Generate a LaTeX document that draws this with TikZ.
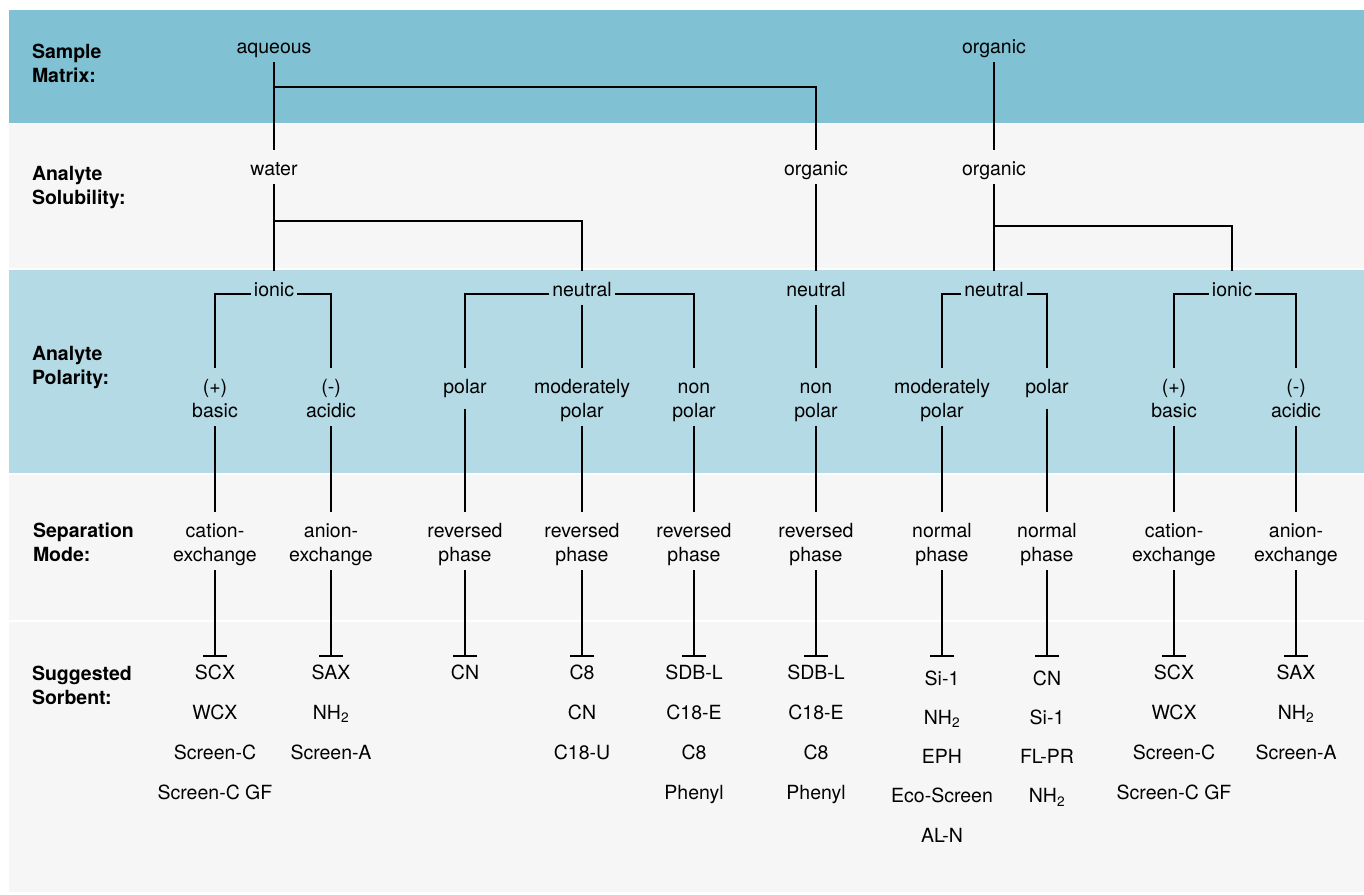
\documentclass[tikz,border=0pt]{standalone}
\usepackage{fontspec}
\setmainfont{TeX Gyre Heros}
\usetikzlibrary{arrows.meta}
\definecolor{bandA}{RGB}{128,193,211}
\definecolor{bandB}{RGB}{180,218,229}
\definecolor{bandG}{RGB}{246,246,246}
\newcommand\tp{\rule{0pt}{25pt}}
\newcommand\sa{\rule{0pt}{22pt}}
\newcommand\sn{\rule{0pt}{28pt}}
\newcommand\hd{\rule{0pt}{20pt}}
\begin{document}
\begin{tikzpicture}[x=1pt,y=-1pt,
  basebox/.style={inner xsep=3pt, inner ysep=0pt, outer sep=0pt, align=center, anchor=north},
  lab/.style={basebox, font=\fontsize{19.5}{24}\selectfont,
    execute at begin node={\tp}, execute at end node={\rule[-9pt]{0pt}{9pt}}},
  deep/.style={execute at end node={\rule[-16pt]{0pt}{16pt}}},
  sorb/.style={basebox, font=\fontsize{19.5}{40}\selectfont},
  sorbn/.style={basebox, font=\fontsize{19.5}{39.3}\selectfont},
  head/.style={anchor=north west, align=left, inner sep=0pt, outer sep=0pt,
    font=\bfseries\fontsize{19.5}{24.5}\selectfont},
  conn/.style={line width=2pt, line cap=butt},
  tee/.style={conn, -{Bar[width=24pt, line width=2pt]}}
]
\useasboundingbox (0,0) rectangle (1364,894);
\fill[white] (0,0) rectangle (1364,894);
\fill[bandA] (9,10) rectangle (1364,122.5);
\fill[bandG] (9,124) rectangle (1364,268);
\fill[bandB] (9,270) rectangle (1364,472.5);
\fill[bandG] (9,474.5) rectangle (1364,620);
\fill[bandG] (9,622) rectangle (1364,892);

% headings
\node[head] (h1) at (32,38) {\hd Sample\\Matrix:};
\node[head] (h2) at (32,160) {\hd Analyte\\Solubility:};
\node[head] (h3) at (32,340) {\hd Analyte\\Polarity:};
\node[head] (h4) at (33,517) {\hd Separation\\Mode:};
\node[head] (h5) at (32,660) {\hd Suggested\\Sorbent:};

% row 1: sample matrix
\node[lab] (aq) at (274,28) {aqueous};
\node[lab] (om) at (994,28) {organic};
% row 2: solubility
\node[lab] (w) at (274,150) {water};
\node[lab] (so) at (816,150) {organic};
\node[lab] (so2) at (994,150) {organic};
% row 3: polarity class
\node[lab] (io1) at (274,271) {ionic};
\node[lab] (ne1) at (582,271) {neutral};
\node[lab] (ne2) at (816,271) {neutral};
\node[lab] (ne3) at (994,271) {neutral};
\node[lab] (io2) at (1232,271) {ionic};
% row 4: polarity
\node[lab] (pb1) at (215,368) {\tp(+)\\basic};
\node[lab] (na1) at (331,368) {\tp(-)\\acidic};
\node[lab,deep] (po1) at (465,368) {polar};
\node[lab] (mp1) at (582,368) {\tp moderately\\polar};
\node[lab] (np1) at (694,368) {\tp non\\polar};
\node[lab] (np2) at (816,368) {\tp non\\polar};
\node[lab] (mp2) at (942,368) {\tp moderately\\polar};
\node[lab,deep] (po2) at (1047,368) {polar};
\node[lab] (pb2) at (1174,368) {\tp(+)\\basic};
\node[lab] (na2) at (1296,368) {\tp(-)\\acidic};
% row 5: separation mode
\node[lab] (ce1) at (215,512) {\tp cation-\\exchange};
\node[lab] (ae1) at (331,512) {\tp anion-\\exchange};
\node[lab] (rp1) at (465,512) {\tp reversed\\phase};
\node[lab] (rp2) at (582,512) {\tp reversed\\phase};
\node[lab] (rp3) at (694,512) {\tp reversed\\phase};
\node[lab] (rp4) at (816,512) {\tp reversed\\phase};
\node[lab] (nph1) at (942,512) {\tp normal\\phase};
\node[lab] (nph2) at (1047,512) {\tp normal\\phase};
\node[lab] (ce2) at (1174,512) {\tp cation-\\exchange};
\node[lab] (ae2) at (1296,512) {\tp anion-\\exchange};
% row 6: sorbents
\node[sorb] (sb1) at (215,657) {\sa SCX\\WCX\\Screen-C\\Screen-C GF};
\node[sorb] (sb2) at (331,657) {\sa SAX\\NH\textsubscript{2}\\Screen-A};
\node[sorb] (sb3) at (465,657) {\sa CN};
\node[sorb] (sb4) at (582,657) {\sa C8\\CN\\C18-U};
\node[sorb] (sb5) at (694,657) {\sa SDB-L\\C18-E\\C8\\Phenyl};
\node[sorb] (sb6) at (816,657) {\sa SDB-L\\C18-E\\C8\\Phenyl};
\node[sorbn] (sb7) at (942,657) {\sn Si-1\\NH\textsubscript{2}\\EPH\\Eco-Screen\\AL-N};
\node[sorbn] (sb8) at (1047,657) {\sn CN\\Si-1\\FL-PR\\NH\textsubscript{2}};
\node[sorb] (sb9) at (1174,657) {\sa SCX\\WCX\\Screen-C\\Screen-C GF};
\node[sorb] (sb10) at (1296,657) {\sa SAX\\NH\textsubscript{2}\\Screen-A};

% connectors rows 1-3
\draw[conn] (aq.south) -- (w.north);
\draw[conn] ([yshift=-25pt]aq.south) -| (so.north);
\draw[conn] (om.south) -- (so2.north);
\draw[conn] (w.south) -- (io1.north);
\draw[conn] ([yshift=-37pt]w.south) -| (ne1.north);
\draw[conn] (so.south) -- (ne2.north);
\draw[conn] (so2.south) -- (ne3.north);
\draw[conn] ([yshift=-42pt]so2.south) -| (io2.north);
% brackets
\draw[conn] ([yshift=2pt]io1.base west) -| (pb1.north);
\draw[conn] ([yshift=2pt]io1.base east) -| (na1.north);
\draw[conn] ([yshift=2pt]ne1.base west) -| (po1.north);
\draw[conn] ([yshift=2pt]ne1.base east) -| (np1.north);
\draw[conn] (ne1.south) -- (mp1.north);
\draw[conn] (ne2.south) -- (np2.north);
\draw[conn] ([yshift=2pt]ne3.base west) -| (mp2.north);
\draw[conn] ([yshift=2pt]ne3.base east) -| (po2.north);
\draw[conn] ([yshift=2pt]io2.base west) -| (pb2.north);
\draw[conn] ([yshift=2pt]io2.base east) -| (na2.north);
% polarity -> separation
\draw[conn] (pb1.south) -- (ce1.north);
\draw[conn] (na1.south) -- (ae1.north);
\draw[conn] (po1.south) -- (rp1.north);
\draw[conn] (mp1.south) -- (rp2.north);
\draw[conn] (np1.south) -- (rp3.north);
\draw[conn] (np2.south) -- (rp4.north);
\draw[conn] (mp2.south) -- (nph1.north);
\draw[conn] (po2.south) -- (nph2.north);
\draw[conn] (pb2.south) -- (ce2.north);
\draw[conn] (na2.south) -- (ae2.north);
% separation -> sorbent
\draw[tee] (ce1.south) -- (sb1.north);
\draw[tee] (ae1.south) -- (sb2.north);
\draw[tee] (rp1.south) -- (sb3.north);
\draw[tee] (rp2.south) -- (sb4.north);
\draw[tee] (rp3.south) -- (sb5.north);
\draw[tee] (rp4.south) -- (sb6.north);
\draw[tee] (nph1.south) -- (sb7.north);
\draw[tee] (nph2.south) -- (sb8.north);
\draw[tee] (ce2.south) -- (sb9.north);
\draw[tee] (ae2.south) -- (sb10.north);
\end{tikzpicture}
\end{document}
